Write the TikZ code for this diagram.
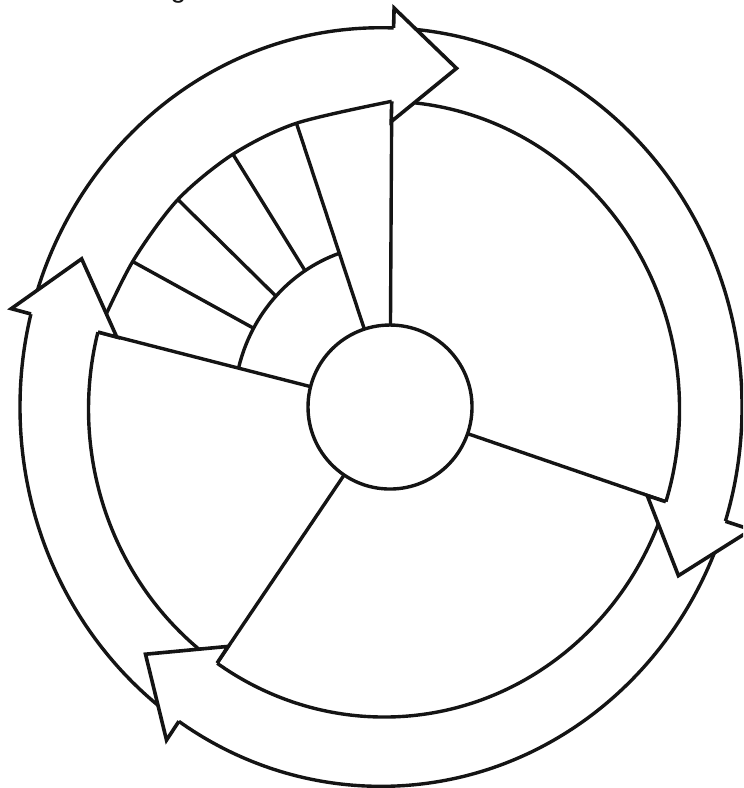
\documentclass[tikz,border=0pt]{standalone}
\usepackage{fontspec}
\setmainfont{Liberation Sans}
\usepackage{xcolor}
\definecolor{inkblack}{HTML}{141414}

\begin{document}
\begin{tikzpicture}[
  x=0.5pt, y=0.521pt,
  line width=1.7pt,
  ink/.style={draw=inkblack, line width=1.7pt, line join=round},
  hubnode/.style={circle, draw=inkblack, line width=1.7pt, minimum size=82pt, inner sep=0pt, outer sep=0pt},
  bandhead/.style={draw=inkblack, fill=white, line width=1.8pt, line join=miter}
]
  \clip (-390,-365.6) rectangle (353,390.6);
  \node[font=\fontsize{14}{14}\selectfont, anchor=base west, inner sep=0pt, text=inkblack] (cut) at (-221,393) {g};

  \coordinate (oin) at (-6,-2);
  \coordinate (oout) at (-9,0);
  \node[hubnode] (hub) at (0,0) {};

  \begin{scope}[shift={(oin)}]
    \coordinate (rt) at (88.5:295.5);
    \coordinate (rr) at (-17.5:295.5);
    \coordinate (rb) at (235.6:295.5);
    \coordinate (rl) at (165.5:295.5);
    \coordinate (s1) at (150.6:288.5);
    \coordinate (s2) at (135.7:288);
    \coordinate (s3) at (121.7:287.5);
    \coordinate (s4) at (107.7:288);
  \end{scope}

  \draw[ink] (rt) arc[start angle=88.5, end angle=-194.5, radius=295.5];
  \draw[ink] plot[smooth] coordinates {(rl) (s1) (s2) (s3) (s4) (rt)};
  \draw[ink] (oout) ellipse[x radius=361, y radius=364];

  \draw[ink] (hub) -- (rt);
  \draw[ink] (hub) -- (rr);
  \draw[ink] (hub) -- (rb);
  \draw[ink] (hub) -- (rl);
  \draw[ink] (hub) -- (s4);
  \draw[ink] (166:156) arc[start angle=166, end angle=109, radius=156];
  \draw[ink] (151:156) -- (s1);
  \draw[ink] (137:156) -- (s2);
  \draw[ink] (123:156) -- (s3);

  \begin{scope}[shift={(oin)}]
    \foreach \a/\ro in {88.5/366, -17.5/358, 235.6/363, 165.5/364.6} {
      \filldraw[bandhead] (\a:\ro) -- (\a:385) -- ({\a-11}:335) -- (\a:276) -- (\a:295.5);
    }
  \end{scope}
\end{tikzpicture}
\end{document}
